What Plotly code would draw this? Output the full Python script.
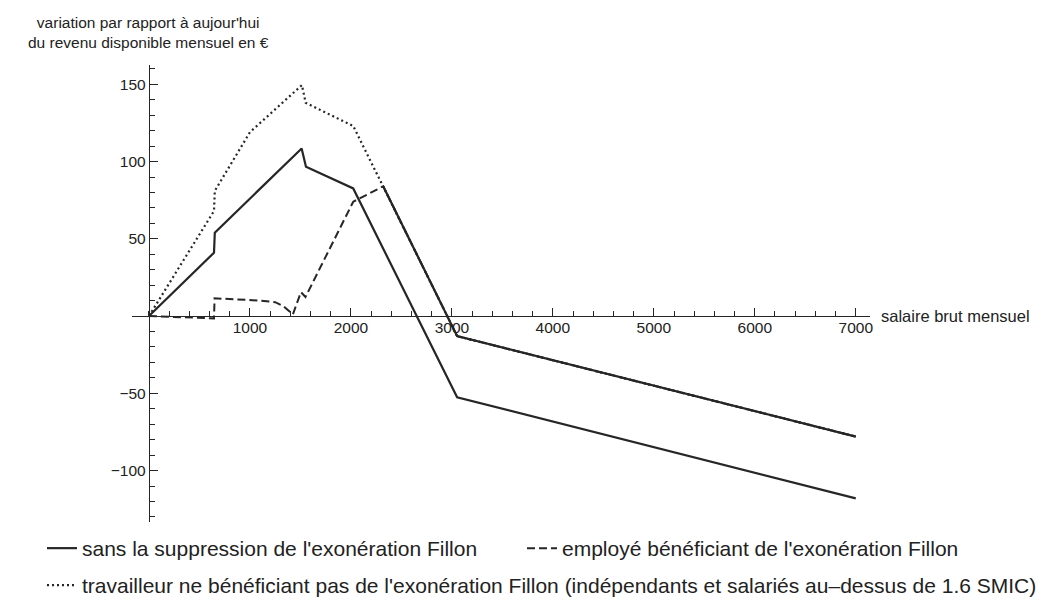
import plotly.graph_objects as go

# ---- data ----
sans_x = [0, 644, 652, 1512, 1555, 2023, 3052, 7000]
sans_y = [0, 41, 54, 108.5, 96.6, 82.6, -52.6, -118]

employe_x = [0, 644, 650, 1100, 1250, 1330, 1425, 1505, 1550, 2023, 2320]
employe_y = [0, -1.5, 11.5, 10, 9, 6.5, 1, 15.5, 12.3, 74, 84]

independant_x = [0, 644, 652, 1000, 1515, 1552, 2023, 2320]
independant_y = [0, 68, 81, 119, 149.5, 138, 123, 84]

# part common to both series above 1.6 SMIC
commun_x = [2320, 3052, 7000]
commun_y = [84, -13, -78]

x_ticks = [1000, 2000, 3000, 4000, 5000, 6000, 7000]
y_ticks = [-100, -50, 50, 100, 150]

noms = ["sans la suppression de l'exonération Fillon",
        "employé bénéficiant de l'exonération Fillon",
        "travailleur ne bénéficiant pas de l'exonération Fillon (indépendants et salariés au\u2013dessus de 1.6 SMIC)"]

titre_y = "variation par rapport à aujour'hui<br>du revenu disponible mensuel en €"
titre_x = "salaire brut mensuel"

# ---- figure ----
W, H = 1046, 600
ml, mr, mt, mb = 132, 0, 65, 78
xmin, xmax = -168, 7141
ymin, ymax = -133.3, 162.5
gw = W - ml - mr
gh = H - mt - mb
x_dom_end = 738 / gw

col = "#262626"
FONT = "Liberation Sans, Arial, Helvetica, sans-serif"

fig = go.Figure()
fig.add_trace(go.Scatter(x=sans_x, y=sans_y, mode="lines", name=noms[0],
                         line=dict(color=col, width=2.2), legend="legend"))
fig.add_trace(go.Scatter(x=employe_x + commun_x[1:], y=employe_y + commun_y[1:], mode="lines",
                         name=noms[1], line=dict(color=col, width=2, dash="8px,4px"),
                         legend="legend"))
fig.add_trace(go.Scatter(x=independant_x + commun_x[1:], y=independant_y + commun_y[1:],
                         mode="lines", name=noms[2],
                         line=dict(color=col, width=2.2, dash="2px,3px"), legend="legend2"))
fig.add_trace(go.Scatter(x=commun_x, y=commun_y, mode="lines", showlegend=False,
                         line=dict(color=col, width=2.2), hoverinfo="skip"))

xpos = (0 - ymin) / (ymax - ymin)
ypos = ((0 - xmin) / (xmax - xmin)) * x_dom_end

fig.update_layout(
    width=W, height=H,
    margin=dict(l=ml, r=mr, t=mt, b=mb, autoexpand=False),
    template="none",
    paper_bgcolor="white", plot_bgcolor="white",
    font=dict(family=FONT, color="#222", size=15),
    xaxis=dict(range=[xmin, xmax], domain=[0, x_dom_end], anchor="free", position=xpos,
               showgrid=False, zeroline=False, showline=True, linecolor=col, linewidth=1.3,
               tickmode="array", tickvals=x_ticks, ticks="inside", ticklen=8, tickwidth=1.2,
               tickcolor=col, tickfont=dict(size=15.5, family=FONT, color="#222"),
               ticklabelstandoff=-3,
               minor=dict(tickmode="linear", tick0=0, dtick=200, ticks="inside", ticklen=5,
                          tickwidth=1.2, tickcolor=col)),
    yaxis=dict(range=[ymin, ymax], domain=[0, 1], anchor="free", position=ypos,
               showgrid=False, zeroline=False, showline=True, linecolor=col, linewidth=1.3,
               tickmode="array", tickvals=y_ticks, ticks="inside", ticklen=8, tickwidth=1.2,
               tickcolor=col, tickfont=dict(size=15.5, family=FONT, color="#222"),
               minor=dict(tickmode="linear", tick0=0, dtick=10, ticks="inside", ticklen=5,
                          tickwidth=1.2, tickcolor=col)),
    showlegend=True,
    legend=dict(orientation="h", x=(42 - ml) / gw, xanchor="left", y=(H - mb - 528) / gh,
                yanchor="top", font=dict(size=21, family=FONT, color="#222"),
                entrywidth=435, bgcolor="rgba(0,0,0,0)"),
    legend2=dict(orientation="h", x=(42 - ml) / gw, xanchor="left", y=(H - mb - 565) / gh,
                 yanchor="top", font=dict(size=21, family=FONT, color="#222"),
                 bgcolor="rgba(0,0,0,0)"),
    annotations=[
        dict(text=titre_x, x=xmax, xref="x", y=0, yref="y", xanchor="left", yanchor="middle",
             xshift=9, showarrow=False, font=dict(size=16.5, family=FONT, color="#222")),
        dict(text=titre_y, x=0, xref="x", y=1 + (mt - 32.5) / gh, yref="paper",
             xanchor="center", yanchor="middle", showarrow=False, align="center",
             font=dict(size=15.5, family=FONT, color="#222")),
    ],
)

# remove the default 8px page margin so the figure fills the window exactly
fig.write_html("out.html", config={"displayModeBar": False},
               post_script="document.body.style.margin='0';")
